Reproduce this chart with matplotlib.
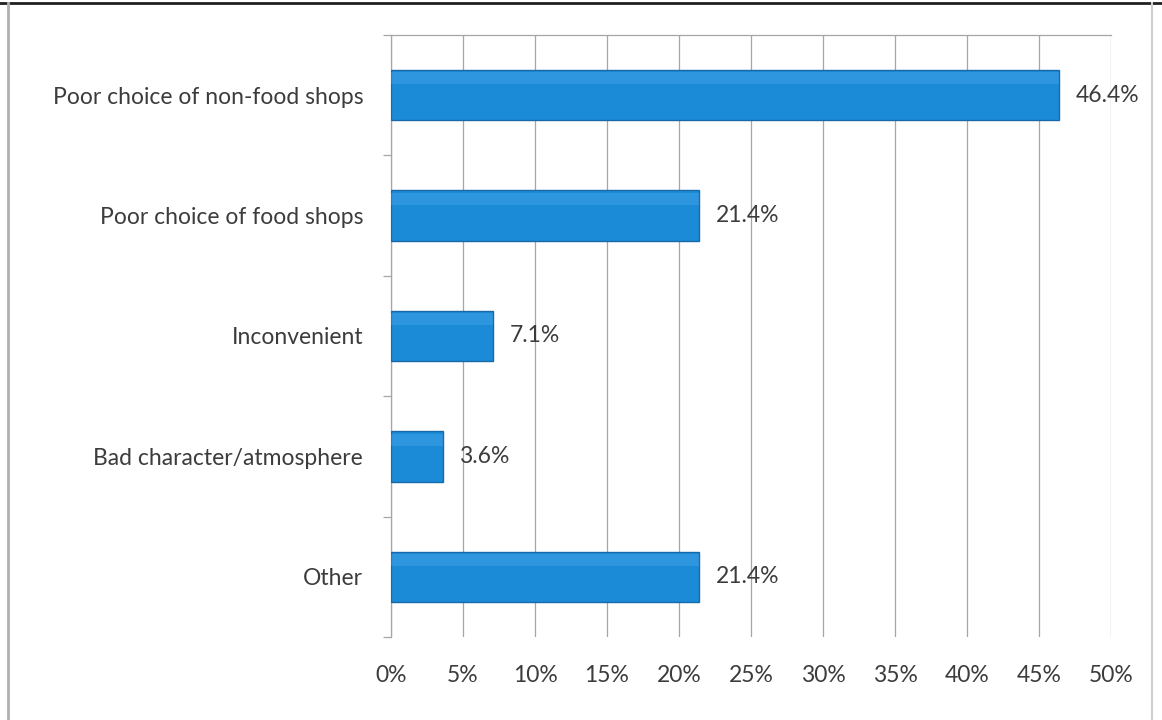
import matplotlib
matplotlib.use("Agg")
import matplotlib.pyplot as plt
from matplotlib.lines import Line2D

categories = ["Poor choice of non-food shops", "Poor choice of food shops",
              "Inconvenient", "Bad character/atmosphere", "Other"]
values = [46.4, 21.4, 7.1, 3.6, 21.4]
value_labels = ["46.4%", "21.4%", "7.1%", "3.6%", "21.4%"]
xticks = [0, 5, 10, 15, 20, 25, 30, 35, 40, 45, 50]
xtick_labels = [f"{t}%" for t in xticks]

plt.rcParams["font.family"] = ["Lato", "DejaVu Sans"]
W, H = 1162, 720
fig = plt.figure(figsize=(W / 100, H / 100), dpi=100)
fig.patch.set_facecolor("white")

# plot area in pixel units
left, right, top, bottom = 391, 1111, 35, 637
ax = fig.add_axes([left / W, 1 - bottom / H, (right - left) / W, (bottom - top) / H])

n = len(categories)
pos = list(range(n))
text_col = "#3c3c3c"
grid_col = "#a6a6a6"
fs = 16.5

ax.barh(pos, values, height=0.42, color="#1b8bd8", edgecolor="#1769ab",
        linewidth=1.0, zorder=3)
# soft highlight along the top of each bar
ax.barh([p - 0.14 for p in pos], values, height=0.1, color="#5ab2ee",
        linewidth=0, zorder=4, alpha=0.3)

for p, v, lab in zip(pos, values, value_labels):
    ax.annotate(lab, (v, p), xytext=(12, 0), textcoords="offset points",
                va="center", ha="left", fontsize=fs, color=text_col, zorder=5)

ax.set_xlim(0, 50)
ax.set_ylim(n - 0.5, -0.5)
ax.set_xticks(xticks)
ax.set_xticklabels(xtick_labels, fontsize=fs, color=text_col)
ax.set_yticks(pos)
ax.set_yticklabels(categories, fontsize=fs, color=text_col)
ax.tick_params(axis="x", length=0, pad=20)
ax.tick_params(axis="y", length=0, pad=20)

# boundary ticks on the category axis
ax.set_yticks([p + 0.5 for p in [-1] + pos], minor=True)
ax.tick_params(axis="y", which="minor", length=6, color=grid_col, width=0.9)

ax.grid(axis="x", color=grid_col, linewidth=0.9, zorder=0)
for s in ["right", "bottom"]:
    ax.spines[s].set_visible(False)
ax.spines["left"].set_color(grid_col)
ax.spines["left"].set_linewidth(0.9)
ax.spines["top"].set_color(grid_col)
ax.spines["top"].set_linewidth(0.9)

# outer chart frame
fig.add_artist(Line2D([0, 1], [1 - 2.5 / H, 1 - 2.5 / H], color="#202020",
                      linewidth=2.0, transform=fig.transFigure))
fig.add_artist(Line2D([8 / W, 8 / W], [0, 1 - 3 / H], color="#b0b0b0",
                      linewidth=2.0, transform=fig.transFigure))
fig.add_artist(Line2D([1152 / W, 1152 / W], [0, 1 - 3 / H], color="#d0d0d0",
                      linewidth=1.5, transform=fig.transFigure))

fig.savefig("out.png", dpi=100, facecolor="white")
